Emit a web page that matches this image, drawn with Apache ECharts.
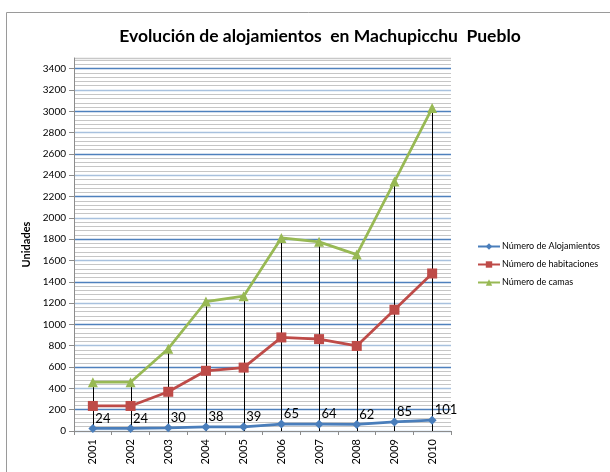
<!DOCTYPE html>
<html>
<head>
<meta charset="utf-8">
<script src="https://cdn.jsdelivr.net/npm/echarts@6/dist/echarts.min.js"></script>
<style>html,body{margin:0;padding:0;background:#fff}#c{width:610px;height:472px}</style>
</head>
<body>
<div id="c"></div>
<script>
const years = ['2001','2002','2003','2004','2005','2006','2007','2008','2009','2010'];
const alojamientos = [24, 24, 30, 38, 39, 65, 64, 62, 85, 101];
const habitaciones = [235, 235, 368, 565, 595, 878, 862, 798, 1138, 1478];
const camas = [458, 458, 772, 1215, 1265, 1812, 1775, 1655, 2340, 3030];
const seriesNames = ['Número de Alojamientos', 'Número de habitaciones', 'Número de camas'];
const yMax = 3500, yStep = 200;

const FONT = 'Lato, "Liberation Sans", sans-serif';
const dark = '#4f81bd', light = '#a8c1de';
const splitColors = [];
for (let v = 0; v <= yMax; v += yStep) splitColors.push((v / yStep) % 2 ? dark : light);
splitColors.push('#c8c8c8');

const chart = echarts.init(document.getElementById('c'), null, {renderer: 'canvas'});
chart.setOption({
  animation: false,
  backgroundColor: '#fff',
  textStyle: {fontFamily: FONT},
  graphic: [{
    type: 'rect', shape: {x: 6.5, y: 12.5, width: 700, height: 600},
    style: {fill: 'none', stroke: '#9a9a9a', lineWidth: 1}, silent: true, z: -10
  }],
  title: {
    text: 'Evolución de alojamientos  en Machupicchu  Pueblo',
    left: 315, top: 22, textAlign: 'center',
    textStyle: {fontFamily: FONT, fontSize: 17.5, fontWeight: 'bold', color: '#000'}
  },
  legend: {
    orient: 'vertical', left: 472, top: 237, itemGap: 9,
    itemWidth: 22, itemHeight: 8,
    textStyle: {fontFamily: FONT, fontSize: 9, color: '#000', padding: [0, 0, 0, -3]},
    data: seriesNames
  },
  grid: {left: 74, right: 159, top: 58, bottom: 41, containLabel: false},
  xAxis: {
    type: 'category', data: years, boundaryGap: true,
    axisLine: {lineStyle: {color: '#8c8c8c', width: 1}},
    axisTick: {show: true, alignWithLabel: false, length: 4, lineStyle: {color: '#8c8c8c'}},
    axisLabel: {rotate: 90, fontSize: 11, color: '#000', fontFamily: FONT, margin: 8}
  },
  yAxis: {
    type: 'value', min: 0, max: yMax, interval: yStep,
    name: 'Unidades', nameLocation: 'middle', nameGap: 36, nameRotate: 90,
    nameTextStyle: {fontFamily: FONT, fontSize: 11, fontWeight: 'bold', color: '#000'},
    axisLine: {show: true, lineStyle: {color: '#8c8c8c'}},
    axisTick: {show: true, length: 5, lineStyle: {color: '#8c8c8c'}},
    axisLabel: {fontSize: 10, color: '#000', fontFamily: FONT, margin: 8, showMaxLabel: false,
      formatter: function (v) { return String(v); }},
    splitLine: {show: true, lineStyle: {color: splitColors, width: 1.3}},
    minorTick: {show: false, splitNumber: 5},
    minorSplitLine: {show: true, lineStyle: {color: '#c6c6c6', width: 1.2}}
  },
  series: [
    {
      type: 'custom', name: 'drop', silent: true, z: 1,
      data: camas.map((v, i) => [i, v]),
      renderItem: function (params, api) {
        const top = api.coord([api.value(0), api.value(1)]);
        const bot = api.coord([api.value(0), 0]);
        return {type: 'line', shape: {x1: Math.round(top[0]) + 0.5, y1: top[1], x2: Math.round(bot[0]) + 0.5, y2: bot[1]},
          style: {stroke: '#000', lineWidth: 1}};
      }
    },
    {
      type: 'line', name: seriesNames[0], data: alojamientos, z: 5,
      symbol: 'diamond', symbolSize: 9,
      lineStyle: {color: '#4a7ebb', width: 2.75},
      itemStyle: {color: '#4a7ebb'},
      label: {show: true, position: 'right', distance: -2, offset: [0, -10],
        fontSize: 13, color: '#000', fontFamily: FONT}
    },
    {
      type: 'line', name: seriesNames[1], data: habitaciones, z: 4,
      symbol: 'rect', symbolSize: 10,
      lineStyle: {color: '#be4b48', width: 2.75},
      itemStyle: {color: '#be4b48'}
    },
    {
      type: 'line', name: seriesNames[2], data: camas, z: 3,
      symbol: 'triangle', symbolSize: 10,
      lineStyle: {color: '#98b954', width: 2.75},
      itemStyle: {color: '#98b954'}
    }
  ]
});
</script>
</body>
</html>
